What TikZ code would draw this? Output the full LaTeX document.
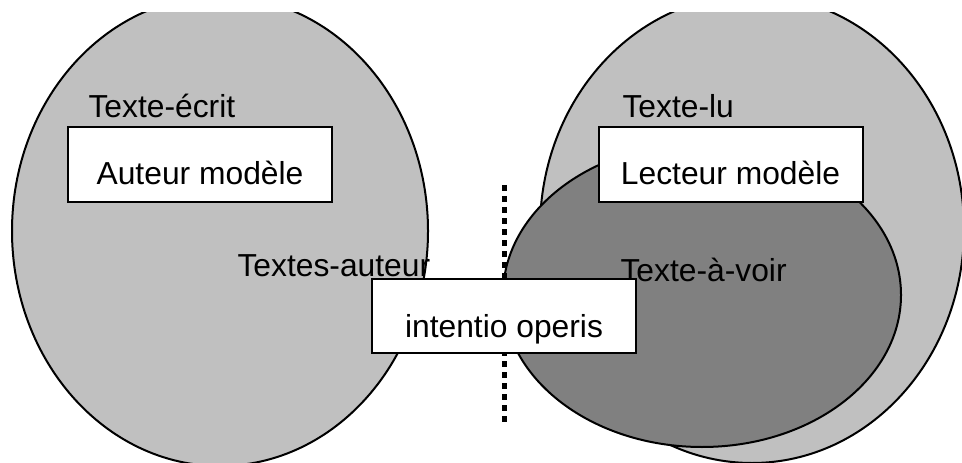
\documentclass[tikz,border=0pt]{standalone}
\usepackage{fontspec}
\setmainfont{Liberation Sans}
\definecolor{lightgr}{HTML}{C0C0C0}
\definecolor{darkgr}{HTML}{808080}

\tikzset{every picture/.style={line width=0.75pt}}
\tikzset{every node/.style={font=\fontsize{23.85}{28}\selectfont}}

\begin{document}
\begin{tikzpicture}[x=0.75pt,y=0.75pt,yscale=-1,xscale=1,
  modelbox/.style={draw, fill=white, line width=1.5, inner sep=0pt, minimum width=198pt, text height=43.5pt, text depth=12.75pt},
  textlbl/.style={anchor=base west, inner sep=0pt}]
\useasboundingbox (0,0) rectangle (962,463);

\begin{scope}
\clip (0,13) rectangle (962,463);
%Shape: Ellipse [id:ecrit] 
\draw  [fill=lightgr, line width=1.5]  (220,231) ellipse [x radius=208, y radius=235] ;
%Shape: Ellipse [id:lu] 
\draw  [fill=lightgr, line width=1.5]  (752,229) ellipse [x radius=212, y radius=234] ;
%Shape: Ellipse [id:avoir] 
\draw  [fill=darkgr, line width=1.5]  (702,295) ellipse [x radius=199, y radius=152] ;
\end{scope}

%Dotted separator
\coordinate (sepTop) at (504,185);
\coordinate (sepBot) at (504,423);
\draw  [line width=3.75, dash pattern={on 4.5pt off 3.75pt}]  (sepTop) -- (sepBot) ;

% Text Node
\node [textlbl] (ecrit) at (88,118) {Texte-écrit};
% Text Node
\node [textlbl] (auteurs) at (237,276) {Textes-auteur};
% Text Node
\node [textlbl] (lu) at (622,118) {Texte-lu};
% Text Node
\node [textlbl] (avoir) at (620,281) {Texte-à-voir};

%Rect Nodes
\node [modelbox] (auteur) at (200,164.5) {Auteur modèle};
\node [modelbox] (lecteur) at (730.5,164.5) {Lecteur modèle};
\node [modelbox, text depth=12pt] (operis) at (504,316) {intentio operis};

\end{tikzpicture}
\end{document}
